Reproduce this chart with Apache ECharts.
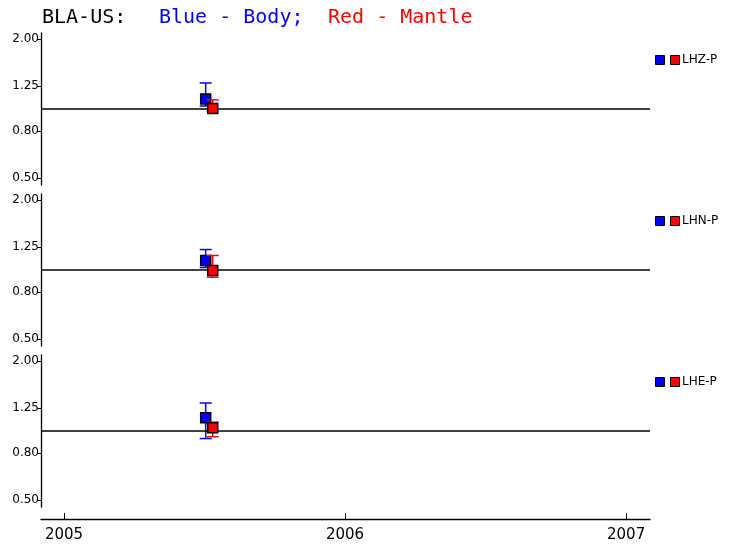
<!DOCTYPE html>
<html>
<head>
<meta charset="utf-8">
<script src="https://cdn.jsdelivr.net/npm/echarts@6/dist/echarts.min.js"></script>
<style>html,body{margin:0;padding:0;background:#fff}#c{width:733px;height:551px}</style>
</head>
<body>
<div id="c"></div>
<script>
// ---- data ----
const yearTicks = [2005, 2006, 2007];
const yTicks = [0.5, 0.8, 1.25, 2.0];
const panelNames = ['LHZ-P', 'LHN-P', 'LHE-P'];
const bodyX = [2005.504, 2005.504, 2005.504];
const bodyVal = [1.10, 1.094, 1.135];
const bodyLo = [1.025, 1.02, 0.923];
const bodyHi = [1.29, 1.22, 1.315];
const mantleX = [2005.529, 2005.529, 2005.529];
const mantleVal = [1.00, 0.99, 1.028];
const mantleLo = [0.97, 0.926, 0.94];
const mantleHi = [1.09, 1.15, 1.087];
const titleParts = [['BLA-US:', '#000'], ['Blue - Body;', '#0000ff'], ['Red - Mantle', '#ff0000']];

// ---- layout ----
const xMin = 2004.918, xMax = 2007.085;
const yMin = 0.4666, yMax = 2.122;
const gridTops = [33, 194, 355];
const gridH = 152;
const BLUE = '#0000ff', RED = '#ff0000';

const grids = [], xAxes = [], yAxes = [], series = [];
const graphics = [];
const titleX = [42, 159, 328];
titleParts.forEach((p, i) => {
  graphics.push({type: 'text', left: titleX[i], top: 8, style: {text: p[0], fill: p[1], font: '20px "DejaVu Sans Mono"'}});
});

function errRender(color) {
  return function (params, api) {
    const x = api.value(0);
    const lo = api.coord([x, api.value(1)]);
    const hi = api.coord([x, api.value(2)]);
    const w = 6;
    const st = {stroke: color, lineWidth: 1.5};
    return {type: 'group', children: [
      {type: 'line', shape: {x1: lo[0], y1: lo[1], x2: hi[0], y2: hi[1]}, style: st},
      {type: 'line', shape: {x1: lo[0] - w, y1: lo[1], x2: lo[0] + w, y2: lo[1]}, style: st},
      {type: 'line', shape: {x1: hi[0] - w, y1: hi[1], x2: hi[0] + w, y2: hi[1]}, style: st}
    ]};
  };
}

for (let i = 0; i < 3; i++) {
  grids.push({left: 41, right: 83, top: gridTops[i], height: gridH});
  const last = i === 2;
  xAxes.push({
    type: 'value', gridIndex: i, min: xMin, max: xMax, show: last,
    offset: last ? 12 : 0,
    axisLine: {show: true, lineStyle: {color: '#000', width: 1.3}},
    axisTick: {show: true, inside: true, length: 6, customValues: yearTicks, lineStyle: {color: '#000'}},
    axisLabel: {show: true, customValues: yearTicks, margin: 9, color: '#000', fontSize: 15, fontFamily: 'DejaVu Sans', formatter: v => String(Math.round(v))},
    splitLine: {show: false}
  });
  yAxes.push({
    type: 'log', logBase: 10, gridIndex: i, min: yMin, max: yMax,
    axisLine: {show: true, lineStyle: {color: '#000', width: 1.3}},
    axisTick: {show: true, length: 4, customValues: yTicks, lineStyle: {color: '#000'}},
    axisLabel: {show: true, customValues: yTicks, margin: 2, color: '#000', fontSize: 12, fontFamily: 'DejaVu Sans', formatter: v => Number(v).toFixed(2)},
    splitLine: {show: false}, minorTick: {show: false}
  });
  series.push({
    type: 'custom', xAxisIndex: i, yAxisIndex: i, z: 2,
    renderItem: errRender(BLUE), data: [[bodyX[i], bodyLo[i], bodyHi[i]]],
    markLine: {silent: true, symbol: 'none', label: {show: false}, lineStyle: {color: '#000', type: 'solid', width: 1.5}, data: [{yAxis: 1}]}
  });
  series.push({
    type: 'scatter', xAxisIndex: i, yAxisIndex: i, z: 3, symbol: 'rect', symbolSize: 10,
    itemStyle: {color: BLUE, borderColor: '#000', borderWidth: 1.5, opacity: 1},
    data: [[bodyX[i], bodyVal[i]]]
  });
  series.push({
    type: 'custom', xAxisIndex: i, yAxisIndex: i, z: 4,
    renderItem: errRender(RED), data: [[mantleX[i], mantleLo[i], mantleHi[i]]]
  });
  series.push({
    type: 'scatter', xAxisIndex: i, yAxisIndex: i, z: 5, symbol: 'rect', symbolSize: 10,
    itemStyle: {color: RED, borderColor: '#000', borderWidth: 1.5, opacity: 1},
    data: [[mantleX[i], mantleVal[i]]]
  });
  const ly = 55 + i * 161;
  graphics.push({type: 'rect', shape: {x: 655.5, y: ly + 0.5, width: 9, height: 9}, style: {fill: BLUE, stroke: '#000', lineWidth: 1}});
  graphics.push({type: 'rect', shape: {x: 670.5, y: ly + 0.5, width: 9, height: 9}, style: {fill: RED, stroke: '#000', lineWidth: 1}});
  graphics.push({type: 'text', x: 682, y: ly + 5, style: {text: panelNames[i], fill: '#000', font: '12px "DejaVu Sans"', verticalAlign: 'middle'}});
}

const chart = echarts.init(document.getElementById('c'), null, {renderer: 'canvas'});
chart.setOption({
  animation: false,
  backgroundColor: '#fff',
  grid: grids, xAxis: xAxes, yAxis: yAxes, series: series,
  graphic: graphics
});
</script>
</body>
</html>
